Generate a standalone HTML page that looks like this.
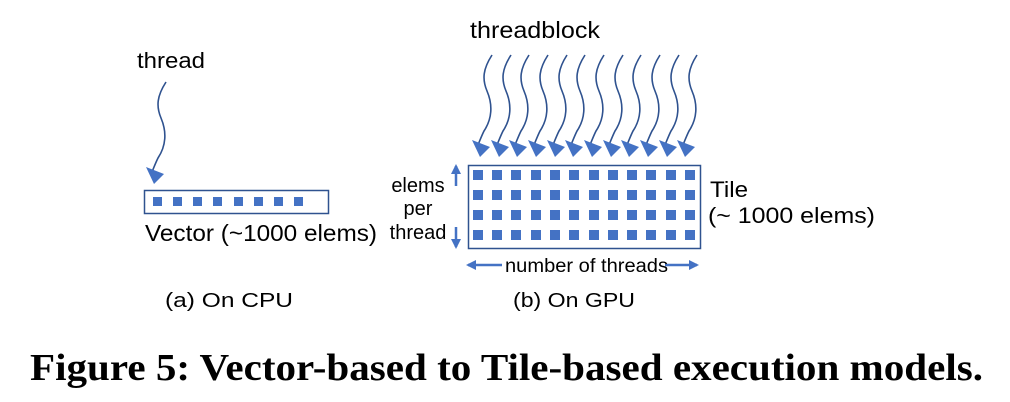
<!DOCTYPE html>
<html><head><meta charset="utf-8"><style>
html,body{margin:0;padding:0;background:#fff;}
svg{display:block;}
text{font-family:"Liberation Sans",sans-serif;fill:#000;}
</style></head><body>
<svg width="1010" height="402" viewBox="0 0 1010 402" xmlns="http://www.w3.org/2000/svg">
<defs>
<marker id="ah" viewBox="0 0 10 10" refX="8" refY="5" markerWidth="4" markerHeight="4" orient="auto"><path d="M0,0 L10,5 L0,10 z" fill="#4472C4"/></marker>
<g id="sq"><path d="M0,0 c-9,14 -10,24 -5,36 c6,14 5,28 -3,40 c-3,6 -5,12 -7,16" fill="none" stroke="#2F528F" stroke-width="1.6"/><path d="M-20,85 L-12,102 L-2,92 z" fill="#4472C4"/></g>
</defs>
<text x="137" y="68" font-size="22" textLength="68" lengthAdjust="spacingAndGlyphs">thread</text>
<use href="#sq" x="166" y="82"/>
<rect x="144.5" y="190.5" width="184" height="23" fill="none" stroke="#2F528F" stroke-width="1.5"/>
<g fill="#4472C4">
<rect x="153" y="197" width="9" height="9"/><rect x="173" y="197" width="9" height="9"/><rect x="193" y="197" width="9" height="9"/><rect x="213" y="197" width="9" height="9"/><rect x="234" y="197" width="9" height="9"/><rect x="254" y="197" width="9" height="9"/><rect x="274" y="197" width="9" height="9"/><rect x="294" y="197" width="9" height="9"/>
</g>
<text x="145" y="241" font-size="23" textLength="232" lengthAdjust="spacingAndGlyphs">Vector (~1000 elems)</text>
<text x="470" y="38" font-size="23" textLength="130" lengthAdjust="spacingAndGlyphs">threadblock</text>
<g>
<use href="#sq" x="492" y="55"/><use href="#sq" x="511" y="55"/><use href="#sq" x="529" y="55"/><use href="#sq" x="548" y="55"/><use href="#sq" x="567" y="55"/><use href="#sq" x="585" y="55"/><use href="#sq" x="604" y="55"/><use href="#sq" x="623" y="55"/><use href="#sq" x="641" y="55"/><use href="#sq" x="660" y="55"/><use href="#sq" x="679" y="55"/><use href="#sq" x="697" y="55"/>
</g>
<rect x="468.5" y="165.5" width="232" height="83" fill="none" stroke="#2F528F" stroke-width="1.5"/>
<g fill="#4472C4">
<rect x="473" y="170" width="10" height="10"/><rect x="492" y="170" width="10" height="10"/><rect x="511" y="170" width="10" height="10"/><rect x="531" y="170" width="10" height="10"/><rect x="550" y="170" width="10" height="10"/><rect x="569" y="170" width="10" height="10"/><rect x="589" y="170" width="10" height="10"/><rect x="608" y="170" width="10" height="10"/><rect x="627" y="170" width="10" height="10"/><rect x="646" y="170" width="10" height="10"/><rect x="666" y="170" width="10" height="10"/><rect x="685" y="170" width="10" height="10"/>
<rect x="473" y="190" width="10" height="10"/><rect x="492" y="190" width="10" height="10"/><rect x="511" y="190" width="10" height="10"/><rect x="531" y="190" width="10" height="10"/><rect x="550" y="190" width="10" height="10"/><rect x="569" y="190" width="10" height="10"/><rect x="589" y="190" width="10" height="10"/><rect x="608" y="190" width="10" height="10"/><rect x="627" y="190" width="10" height="10"/><rect x="646" y="190" width="10" height="10"/><rect x="666" y="190" width="10" height="10"/><rect x="685" y="190" width="10" height="10"/>
<rect x="473" y="210" width="10" height="10"/><rect x="492" y="210" width="10" height="10"/><rect x="511" y="210" width="10" height="10"/><rect x="531" y="210" width="10" height="10"/><rect x="550" y="210" width="10" height="10"/><rect x="569" y="210" width="10" height="10"/><rect x="589" y="210" width="10" height="10"/><rect x="608" y="210" width="10" height="10"/><rect x="627" y="210" width="10" height="10"/><rect x="646" y="210" width="10" height="10"/><rect x="666" y="210" width="10" height="10"/><rect x="685" y="210" width="10" height="10"/>
<rect x="473" y="230" width="10" height="10"/><rect x="492" y="230" width="10" height="10"/><rect x="511" y="230" width="10" height="10"/><rect x="531" y="230" width="10" height="10"/><rect x="550" y="230" width="10" height="10"/><rect x="569" y="230" width="10" height="10"/><rect x="589" y="230" width="10" height="10"/><rect x="608" y="230" width="10" height="10"/><rect x="627" y="230" width="10" height="10"/><rect x="646" y="230" width="10" height="10"/><rect x="666" y="230" width="10" height="10"/><rect x="685" y="230" width="10" height="10"/>
</g>
<text x="418" y="192" font-size="20" text-anchor="middle">elems</text>
<text x="418" y="215" font-size="20" text-anchor="middle">per</text>
<text x="418" y="239" font-size="20" text-anchor="middle">thread</text>
<line x1="456" y1="186" x2="456" y2="166" stroke="#4472C4" stroke-width="2.5" marker-end="url(#ah)"/>
<line x1="456" y1="227" x2="456" y2="247" stroke="#4472C4" stroke-width="2.5" marker-end="url(#ah)"/>
<text x="710" y="197" font-size="22" textLength="38" lengthAdjust="spacingAndGlyphs">Tile</text>
<text x="708" y="223" font-size="22" textLength="167" lengthAdjust="spacingAndGlyphs">(~ 1000 elems)</text>
<line x1="502" y1="265" x2="468" y2="265" stroke="#4472C4" stroke-width="2.5" marker-end="url(#ah)"/>
<line x1="665" y1="265" x2="697" y2="265" stroke="#4472C4" stroke-width="2.5" marker-end="url(#ah)"/>
<text x="505" y="272" font-size="19" textLength="163" lengthAdjust="spacingAndGlyphs">number of threads</text>
<text x="165" y="307" font-size="20" textLength="128" lengthAdjust="spacingAndGlyphs">(a) On CPU</text>
<text x="513" y="307" font-size="20" textLength="122" lengthAdjust="spacingAndGlyphs">(b) On GPU</text>
<text x="30" y="380" font-size="38" font-weight="bold" style="font-family:'Liberation Serif',serif" textLength="953" lengthAdjust="spacingAndGlyphs">Figure 5: Vector-based to Tile-based execution models.</text>
</svg>
</body></html>
